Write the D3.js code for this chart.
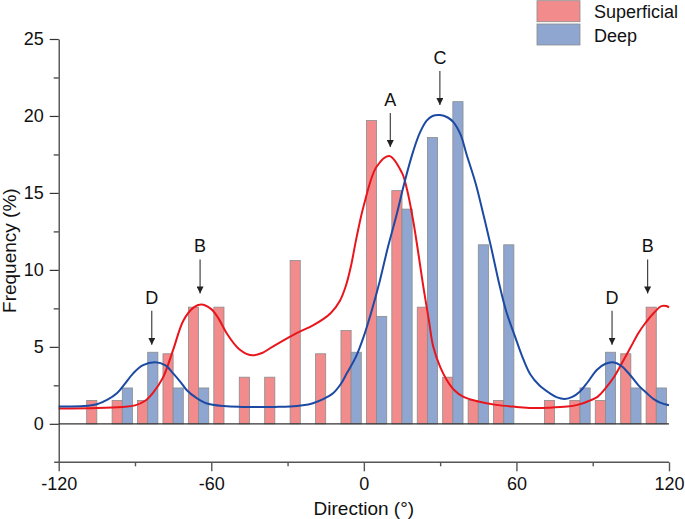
<!DOCTYPE html>
<html>
<head>
<meta charset="utf-8">
<script src="https://cdn.jsdelivr.net/npm/d3@7"></script>
<style>
  html, body { margin: 0; padding: 0; background: #fff; }
  svg { display: block; }
  text { font-family: "Liberation Sans", Arial, sans-serif; fill: #111; }
</style>
</head>
<body>
<svg id="chart" width="685" height="519"></svg>
<script>
// ---- Data ----
const binCenters = [-115, -105, -95, -85, -75, -65, -55, -45, -35, -25, -15, -5,
                    5, 15, 25, 35, 45, 55, 65, 75, 85, 95, 105, 115];
const superficial = [0, 1.52, 1.52, 1.52, 4.55, 7.58, 7.58, 3.03, 3.03, 10.61, 4.55, 6.06,
                     19.70, 15.15, 7.58, 3.03, 1.52, 1.52, 0, 1.52, 1.52, 1.52, 4.55, 7.58];
const deep = [0, 0, 2.33, 4.65, 2.33, 2.33, 0, 0, 0, 0, 0, 4.65,
              6.98, 13.95, 18.60, 20.93, 11.63, 11.63, 0, 0, 2.33, 4.65, 2.33, 2.33];

const superficialFit = [[-120,1.0],[-105,1.03],[-95,1.1],[-90,1.2],[-86,1.5],[-83,2.0],[-79,3.0],
  [-75,4.8],[-71,6.7],[-67,7.55],[-64,7.75],[-60,7.45],[-57,6.8],[-54,5.9],[-49,4.85],[-44,4.45],
  [-40,4.6],[-36,5.0],[-27,5.85],[-20,6.4],[-16,6.8],[-13,7.2],[-9.4,8.0],[-7,9.0],[-5,10.3],
  [-3,12.0],[0,14.2],[5,16.7],[10,17.4],[15,16.3],[17,15.2],[19.4,13.2],[21.5,11.0],[23.4,8.9],
  [25.5,6.8],[27.3,5.0],[30,3.7],[32.6,2.85],[35.5,2.2],[39,1.77],[45,1.45],[52,1.23],[60,1.1],
  [66,1.03],[73,1.05],[80,1.12],[84,1.23],[88,1.45],[92,1.77],[95,2.3],[98.5,3.07],[102,4.1],
  [105,5.0],[108,5.9],[110.5,6.5],[114,7.2],[117,7.65],[119,7.65],[120,7.55]];

const deepFit = [[-120,1.12],[-110,1.15],[-105,1.27],[-101,1.55],[-97,2.0],[-94,2.6],[-90.7,3.28],
  [-87,3.8],[-82,4.0],[-78,3.8],[-75,3.28],[-72,2.7],[-69.7,2.2],[-66,1.7],[-62,1.34],[-55,1.15],
  [-48,1.1],[-35,1.1],[-29,1.12],[-24,1.2],[-20,1.34],[-16,1.6],[-12,2.0],[-9,2.6],[-6.7,3.28],
  [-3,4.4],[0,5.7],[3,7.3],[6.3,9.3],[9.5,11.5],[12.9,13.6],[16,15.7],[19.4,17.7],[22,18.9],
  [24.7,19.7],[27,20.0],[29.9,20.06],[33,19.9],[35.2,19.6],[38,18.8],[40.4,17.5],[44,15.6],
  [47,13.6],[50,11.5],[53.5,8.9],[56,7.3],[59.5,5.65],[62,4.5],[65.5,3.2],[69,2.5],[73,2.0],
  [76,1.72],[79,1.62],[82,1.75],[85,2.1],[88,2.7],[91.6,3.5],[95,3.9],[98,4.0],[101,3.8],
  [104.7,3.17],[108,2.5],[111.2,2.0],[114,1.6],[116.5,1.38],[120,1.21]];

const annLabels = ["D", "B", "A", "C", "D", "B"];
const annX      = [-83.4, -64.4, 10.4, 29.9, 97.6, 111.6];
const annTip    = [5.13, 8.47, 17.98, 20.71, 5.13, 8.47];

const xMajorTicks = [-120, -60, 0, 60, 120];
const xMinorTicks = [-90, -30, 30, 90];
const yMajorTicks = [0, 5, 10, 15, 20, 25];
const yMinorTicks = [2.5, 7.5, 12.5, 17.5, 22.5];
const seriesNames = ["Superficial", "Deep"];

// ---- Styles ----
const colSup = "#F28B8C", colDeep = "#8FA6D0";
const lineSup = "#E8161C", lineDeep = "#1C4AA3";
const fontSize = 18;

const svg = d3.select("#chart");
const x = d3.scaleLinear().domain([-120, 120]).range([58.7, 669]);
const y = d3.scaleLinear().domain([-2.5, 25]).range([462.3, 39]);
const binW = 4; // degrees per bar

// Bars
const barData = [];
binCenters.forEach((c, i) => {
  if (superficial[i] > 0) barData.push({x0: c - binW, v: superficial[i], fill: colSup});
  if (deep[i] > 0) barData.push({x0: c, v: deep[i], fill: colDeep});
});
svg.append("g").selectAll("rect").data(barData).enter().append("rect")
  .attr("x", d => x(d.x0))
  .attr("width", x(binW) - x(0))
  .attr("y", d => y(d.v))
  .attr("height", d => y(0) - y(d.v))
  .attr("fill", d => d.fill)
  .attr("stroke", "#8c8c8c")
  .attr("stroke-width", 0.8);

// zero line
svg.append("line").attr("x1", x(-120)).attr("x2", x(120))
  .attr("y1", y(0)).attr("y2", y(0))
  .attr("stroke", "#333").attr("stroke-width", 1.3);

// Curves
const line = d3.line().x(d => x(d[0])).y(d => y(d[1])).curve(d3.curveCatmullRom.alpha(0.5));
svg.append("path").datum(superficialFit).attr("d", line)
  .attr("fill", "none").attr("stroke", lineSup).attr("stroke-width", 2);
svg.append("path").datum(deepFit).attr("d", line)
  .attr("fill", "none").attr("stroke", lineDeep).attr("stroke-width", 2);

// Y axis
const yAxisG = svg.append("g").attr("transform", `translate(${x(-120)},0)`);
yAxisG.call(d3.axisLeft(y).tickValues(yMajorTicks).tickSize(9).tickPadding(6).tickSizeOuter(0)
  .tickFormat(d => String(d)));
yAxisG.append("g").call(d3.axisLeft(y).tickValues(yMinorTicks).tickSize(5).tickFormat("").tickSizeOuter(0))
  .select(".domain").remove();
yAxisG.selectAll("path, line").attr("stroke", "#333").attr("stroke-width", 1.2);
yAxisG.selectAll("text").style("font-size", fontSize + "px").attr("fill", "#111")
  .style("font-family", "Liberation Sans, Arial, sans-serif");

// X axis (at bottom of plot)
const xAxisG = svg.append("g").attr("transform", `translate(0,${y(-2.5)})`);
xAxisG.call(d3.axisBottom(x).tickValues(xMajorTicks).tickSize(9).tickPadding(6).tickSizeOuter(0)
  .tickFormat(d => String(d)));
xAxisG.append("g").call(d3.axisBottom(x).tickValues(xMinorTicks).tickSize(4).tickFormat("").tickSizeOuter(0))
  .select(".domain").remove();
xAxisG.select(".domain").attr("d", `M${x(-120) - 4.5},0H${x(120)}`);
xAxisG.selectAll("path, line").attr("stroke", "#555").attr("stroke-width", 1.4);
xAxisG.selectAll("text").style("font-size", fontSize + "px").attr("fill", "#111")
  .style("font-family", "Liberation Sans, Arial, sans-serif");

// Axis titles
svg.append("text").attr("x", (x(-120) + x(120)) / 2).attr("y", 515)
  .attr("text-anchor", "middle").style("font-size", "19px").text("Direction (°)");
svg.append("text").attr("transform", `translate(16,${(y(25) + y(-2.5)) / 2 + 0}) rotate(-90)`)
  .attr("text-anchor", "middle").style("font-size", "19px").text("Frequency (%)");

// Annotations
svg.append("defs").append("marker")
  .attr("id", "ah").attr("viewBox", "0 0 10 10").attr("refX", 10).attr("refY", 5)
  .attr("markerWidth", 7).attr("markerHeight", 7).attr("markerUnits", "userSpaceOnUse")
  .attr("orient", "auto")
  .append("path").attr("d", "M0,0L10,5L0,10Z").attr("fill", "#222");
const annG = svg.append("g");
annLabels.forEach((lab, i) => {
  const ax = x(annX[i]), tip = y(annTip[i]);
  annG.append("line").attr("x1", ax).attr("x2", ax).attr("y1", tip - 34).attr("y2", tip)
    .attr("stroke", "#333").attr("stroke-width", 1.1).attr("marker-end", "url(#ah)");
  annG.append("text").attr("x", ax).attr("y", tip - 41).attr("text-anchor", "middle")
    .style("font-size", fontSize + "px").text(lab);
});

// Legend
const legColors = [colSup, colDeep];
const legG = svg.append("g");
seriesNames.forEach((n, i) => {
  legG.append("rect").attr("x", 537).attr("y", 0.7 + i * 23.3).attr("width", 43).attr("height", 21)
    .attr("fill", legColors[i]).attr("stroke", "#8c8c8c").attr("stroke-width", 0.8);
  legG.append("text").attr("x", 594).attr("y", 17.5 + i * 24.5)
    .style("font-size", fontSize + "px").text(n);
});
</script>
</body>
</html>
